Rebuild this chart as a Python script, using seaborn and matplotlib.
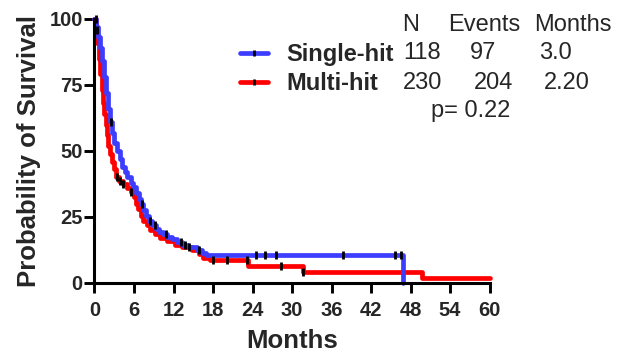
import numpy as np
import pandas as pd
import matplotlib
matplotlib.use("Agg")
import matplotlib.pyplot as plt
from matplotlib.lines import Line2D
from matplotlib.legend_handler import HandlerTuple
import seaborn as sns

# ---------------- data ----------------
groups = ["Single-hit", "Multi-hit"]
single_t = [0, 0.3, 0.6, 0.9, 1.2, 1.5, 1.8, 2.1, 2.4, 2.7, 3.0, 3.4, 3.8, 4.2, 4.6, 5.0,
            5.5, 5.9, 6.3, 6.7, 7.0, 7.4, 7.8, 8.3, 8.8, 9.3, 9.8, 10.4, 11.0, 11.7, 12.5,
            13.3, 14.2, 15.5, 16.3, 17.0, 46.9]
single_s = [100, 97, 93, 89, 84, 78, 72, 66, 61, 57, 53, 50, 47, 44, 42, 40,
            38, 36.5, 34, 32, 30, 27.5, 25.5, 23.5, 22, 20.5, 19.5, 18.5, 17.5, 16.5, 15.5,
            14.5, 13.5, 12.5, 11.5, 10.5, 0]
multi_t = [0, 0.2, 0.45, 0.7, 0.9, 1.1, 1.3, 1.5, 1.7, 1.9, 2.1, 2.3, 2.6, 2.9, 3.3, 3.7,
           4.3, 5.0, 5.6, 6.0, 6.3, 6.6, 7.0, 7.4, 7.9, 8.4, 9.2, 10.0, 11.0, 12.3, 13.3,
           14.8, 15.8, 16.5, 17.5, 23.3, 31.7, 49.7, 60]
multi_s = [100, 96, 91, 85, 79, 73, 68, 64, 60, 56, 52, 49, 46, 43, 40, 38.5,
           37.5, 36, 34.5, 32.5, 30, 28, 25.5, 23.5, 22, 20, 18.5, 17, 16, 14.5, 13.5,
           12.5, 11, 9.5, 8.8, 6.5, 4.0, 1.8, 1.8]
single_cens = [0.2, 2.46, 7.2, 8.4, 9.2, 10.9, 13.1, 13.75, 14.4, 15.9, 24.6, 25.9, 27.6,
               37.7, 45.7, 46.5]
multi_cens = [0.4, 3.4, 3.9, 4.4, 5.6, 18.0, 20.2, 23.1, 28.3, 31.7]

table_header = ["N", "Events", "Months"]
table_rows = [["118", "97", "3.0"], ["230", "204", "2.20"]]
p_text = "p= 0.22"

x_ticks = [0, 6, 12, 18, 24, 30, 36, 42, 48, 54, 60]
y_ticks = [0, 25, 50, 75, 100]
colors = {"Single-hit": "#3D3DFF", "Multi-hit": "#FF0000"}

# ---------------- build frames ----------------
curves = pd.concat([
    pd.DataFrame({"Months": single_t, "Survival": single_s, "Group": "Single-hit"}),
    pd.DataFrame({"Months": multi_t, "Survival": multi_s, "Group": "Multi-hit"}),
], ignore_index=True)


def step_value(ts, ss, t):
    i = np.searchsorted(np.asarray(ts), t, side="right") - 1
    return ss[max(i, 0)]


cens = pd.concat([
    pd.DataFrame({"Months": single_cens,
                  "Survival": [step_value(single_t, single_s, t) for t in single_cens]}),
    pd.DataFrame({"Months": multi_cens,
                  "Survival": [step_value(multi_t, multi_s, t) for t in multi_cens]}),
], ignore_index=True)

# ---------------- plot ----------------
sns.set_theme(style="ticks")
plt.rcParams["font.family"] = ["Liberation Sans", "DejaVu Sans"]

W, H = 618, 353
fig = plt.figure(figsize=(W / 100, H / 100), dpi=100)
ax = fig.add_axes([94.5 / W, 1 - 283 / H, (489.5 - 94.5) / W, (283 - 19) / H])

for g in ["Multi-hit", "Single-hit"]:
    sub = curves[curves["Group"] == g]
    sns.lineplot(data=sub, x="Months", y="Survival", color=colors[g], lw=3.4,
                 drawstyle="steps-post", estimator=None, sort=False, ax=ax,
                 legend=False, clip_on=False)

sns.scatterplot(data=cens, x="Months", y="Survival", marker="|", s=30,
                linewidth=2, color="black", ax=ax, legend=False, clip_on=False,
                zorder=5)

ax.set_xlim(0, 60)
ax.set_ylim(0, 100)
ax.set_xticks(x_ticks)
ax.set_yticks(y_ticks)
ax.set_xticklabels([str(v) for v in x_ticks], fontsize=14.5, fontweight="bold")
ax.set_yticklabels([str(v) for v in y_ticks], fontsize=14.5, fontweight="bold")
ax.tick_params(axis="both", length=7, width=2.1, color="black")
ax.tick_params(axis="y", pad=1.5)
ax.tick_params(axis="x", pad=6)
for sp in ["top", "right"]:
    ax.spines[sp].set_visible(False)
for sp in ["left", "bottom"]:
    ax.spines[sp].set_linewidth(2.2)
    ax.spines[sp].set_color("black")
ax.set_xlabel("Months", fontsize=18.5, fontweight="bold", labelpad=6.5)
ax.set_ylabel("Probability of Survival", fontsize=18.5, fontweight="bold", labelpad=6)

# ---------------- legend ----------------
handles = []
for g in groups:
    handles.append((Line2D([], [], color=colors[g], lw=3.4),
                    Line2D([], [], color="black", marker="|", ls="none", ms=5, mew=2)))
leg = ax.legend(handles, groups, handler_map={tuple: HandlerTuple(ndivide=1)},
                numpoints=1, loc="upper left", bbox_to_anchor=(240 / W, 1 - 43 / H),
                bbox_transform=fig.transFigure, frameon=False, borderpad=0,
                borderaxespad=0, handlelength=1.2, handletextpad=0.75,
                labelspacing=0.25, prop={"size": 17, "weight": "bold"})

# ---------------- table text ----------------
hdr_x = [410.5, 484, 572.5]
for txt, x in zip(table_header, hdr_x):
    fig.text(x / W, 1 - 25 / H, txt, ha="center", va="center", fontsize=17)
row_y = [53, 83]
col_x = [[422.5, 483.5, 555.5], [422.5, 494, 566.5]]
for row, y, xs in zip(table_rows, row_y, col_x):
    for txt, x in zip(row, xs):
        fig.text(x / W, 1 - y / H, txt, ha="center", va="center", fontsize=17)
fig.text(471 / W, 1 - 111 / H, p_text, ha="center", va="center", fontsize=17)

fig.savefig("out.png", dpi=100)
